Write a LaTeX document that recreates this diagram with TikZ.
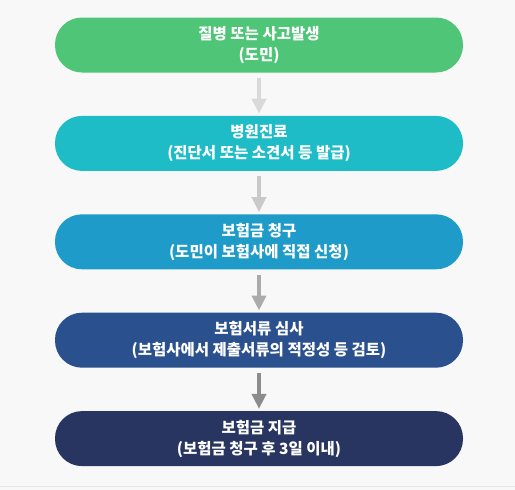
\documentclass[tikz,border=0pt]{standalone}
\usepackage{fontspec}
\newfontfamily\cjk{Noto Sans CJK KR}
\usepackage{tikz}
\usetikzlibrary{positioning,arrows.meta}
\definecolor{bgcol}{HTML}{F8F8F8}
\definecolor{c1}{HTML}{4FC577}
\definecolor{c2}{HTML}{1DBCC6}
\definecolor{c3}{HTML}{1E9BC8}
\definecolor{c4}{HTML}{2A508D}
\definecolor{c5}{HTML}{273560}
\tikzset{
  basic/.style  = {rectangle, text=white, align=center, inner sep=0pt,
                   font=\cjk\bfseries\fontsize{15.5}{21}\selectfont},
  stage/.style  = {basic, minimum width=408pt, minimum height=55pt, rounded corners=27pt},
  flow/.style   = {draw, line width=4pt, -{Triangle[length=15pt,width=14pt]},
                   shorten <=5pt, shorten >=2pt}
}
\begin{document}
\begin{tikzpicture}[node distance=43pt]
    \fill [bgcol] (0,0) rectangle (515pt,-490pt);
    \useasboundingbox (0,0) rectangle (515pt,-490pt);
    \coordinate (lineL) at (0,-486pt);
    \coordinate (lineR) at (515pt,-486pt);
    \draw [color=black!9, line width=1pt] (lineL) -- (lineR);

    \node [stage, fill=c1] (s1) at (259pt,-45pt) {질병 또는 사고발생\\(도민)};
    \node [stage, fill=c2, below=of s1] (s2) {병원진료\\(진단서 또는 소견서 등 발급)};
    \node [stage, fill=c3, below=of s2] (s3) {보험금 청구\\(도민이 보험사에 직접 신청)};
    \node [stage, fill=c4, below=of s3] (s4) {보험서류 심사\\(보험사에서 제출서류의 적정성 등 검토)};
    \node [stage, fill=c5, below=of s4] (s5) {보험금 지급\\(보험금 청구 후 3일 이내)};

    \draw [flow, color=black!15] (s1) -- (s2);
    \draw [flow, color=black!21] (s2) -- (s3);
    \draw [flow, color=black!33] (s3) -- (s4);
    \draw [flow, color=black!45] (s4) -- (s5);
\end{tikzpicture}
\end{document}
